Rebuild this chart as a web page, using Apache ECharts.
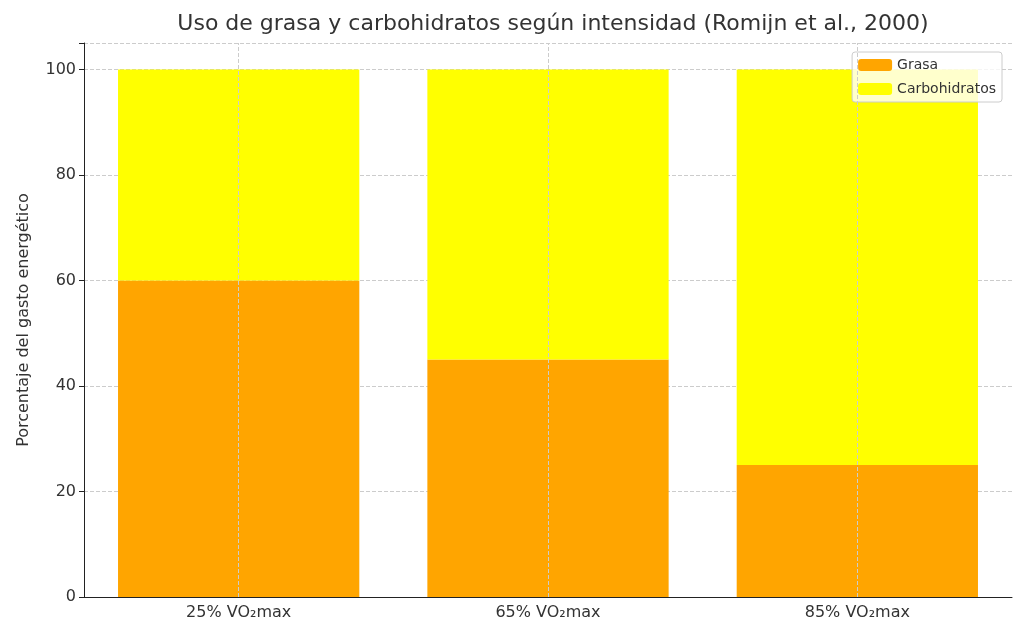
<!DOCTYPE html><html><head><meta charset="utf-8"><script src="https://cdn.jsdelivr.net/npm/echarts@6/dist/echarts.min.js"></script></head><body style="margin:0"><div id="c" style="width:1024px;height:635px"></div><script>
const categories=['25% VO₂max','65% VO₂max','85% VO₂max'];
const grasa=[60,45,25];
const carbo=[40,55,75];
const ticks=[0,20,40,60,80,100];
const ch=echarts.init(document.getElementById('c'));
const F='DejaVu Sans';
ch.setOption({animation:false,textStyle:{fontFamily:F},
title:{text:'Uso de grasa y carbohidratos según intensidad (Romijn et al., 2000)',left:548,textAlign:'center',top:8,textStyle:{fontFamily:F,fontSize:22,fontWeight:'normal',color:'#333'}},
legend:{right:22,top:52,orient:'vertical',itemWidth:34,itemHeight:12,itemGap:10,padding:[6,6,6,6],borderColor:'#ccc',borderWidth:1,borderRadius:3,backgroundColor:'rgba(255,255,255,0.8)',textStyle:{fontSize:14,color:'#333'},data:['Grasa','Carbohidratos']},
grid:{left:84,right:12,top:43,bottom:38},
xAxis:{type:'category',data:categories,axisLine:{lineStyle:{color:'#222'}},axisTick:{alignWithLabel:true,length:5,lineStyle:{color:'#222'}},axisLabel:{fontSize:16,color:'#333',margin:8},splitLine:{show:false}},
yAxis:{type:'value',min:0,max:105,interval:20,name:'Porcentaje del gasto energético',nameLocation:'middle',nameGap:52,nameTextStyle:{fontSize:16,color:'#333'},axisLine:{show:true,lineStyle:{color:'#222'}},axisTick:{show:true,length:5,lineStyle:{color:'#222'}},axisLabel:{fontSize:16,color:'#333',formatter:v=>ticks.includes(v)?v:''},splitLine:{lineStyle:{type:'dashed',color:'#ccc'}}},
series:[
{name:'Grasa',type:'bar',stack:'a',data:grasa,barWidth:'78%',itemStyle:{color:'#FFA500'},
 markLine:{silent:true,symbol:'none',label:{show:false},lineStyle:{type:'dashed',color:'#ccc',width:1},data:categories.map(c=>({xAxis:c}))},z:1},
{name:'Carbohidratos',type:'bar',stack:'a',data:carbo,itemStyle:{color:'#FFFF00'}}
]});
</script></body></html>
